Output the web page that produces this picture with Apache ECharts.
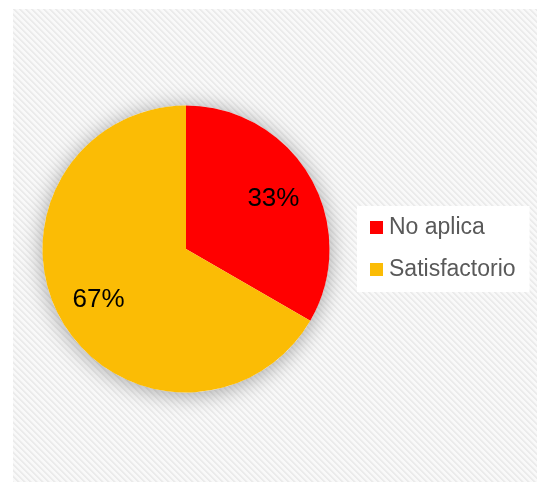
<!DOCTYPE html>
<html>
<head>
<meta charset="utf-8">
<script src="https://cdn.jsdelivr.net/npm/echarts@6/dist/echarts.min.js"></script>
<style>
  html, body { margin: 0; padding: 0; background: #ffffff; }
  #chart { position: absolute; left: 13px; top: 9px; width: 524px; height: 473px; }
</style>
</head>
<body>
<div id="chart"></div>
<script>
var categories = ['No aplica', 'Satisfactorio'];
var values = [1, 2];
var colors = ['#ff0000', '#fbbc05'];

// hatched background, same as the sheet behind the chart
var makeHatch = function () {
    var size = 6;
    var c = document.createElement('canvas');
    c.width = size;
    c.height = size;
    var ctx = c.getContext('2d');
    var img = ctx.createImageData(size, size);
    for (var y = 0; y < size; y++) {
        for (var x = 0; x < size; x++) {
            var k = ((x - y) % size + size) % size;
            var v = k < 2 ? 235 : (k === 2 ? 242 : 249);
            var i = (y * size + x) * 4;
            img.data[i] = v;
            img.data[i + 1] = v;
            img.data[i + 2] = v;
            img.data[i + 3] = 255;
        }
    }
    ctx.putImageData(img, 0, 0);
    return c.toDataURL();
};

var el = document.getElementById('chart');
el.style.backgroundImage = 'url(' + makeHatch() + ')';

var data = categories.map(function (name, i) {
    return { name: name, value: values[i], itemStyle: { color: colors[i] } };
});

var center = [173, 240];
var radius = 143.5;

var chart = echarts.init(el, null, { renderer: 'canvas' });
chart.setOption({
    animation: false,
    textStyle: { fontFamily: 'Liberation Sans, Arial, sans-serif' },
    legend: {
        orient: 'vertical',
        left: 344,
        top: 197,
        backgroundColor: '#ffffff',
        padding: [10, 14, 11, 13],
        itemWidth: 13,
        itemHeight: 13,
        itemGap: 19,
        icon: 'rect',
        data: categories,
        textStyle: { fontSize: 23, lineHeight: 23, color: '#595959', padding: [0, 0, 0, 1] }
    },
    series: [
        {
            // disc underneath that carries the drop shadow
            type: 'pie',
            name: 'shadow',
            silent: true,
            center: center,
            radius: radius,
            label: { show: false },
            labelLine: { show: false },
            itemStyle: {
                color: '#ffffff',
                shadowBlur: 22,
                shadowColor: 'rgba(0,0,0,0.35)',
                shadowOffsetY: 2
            },
            data: [{ name: '', value: 1 }]
        },
        {
            type: 'pie',
            name: 'main',
            center: center,
            radius: radius,
            startAngle: 90,
            clockwise: true,
            label: { show: false },
            labelLine: { show: false },
            emphasis: { disabled: true },
            data: data
        },
        {
            // transparent copy, only used to place the percent labels further out
            type: 'pie',
            name: 'labels',
            silent: true,
            center: center,
            radius: radius * 1.365,
            startAngle: 90,
            clockwise: true,
            itemStyle: { color: 'transparent' },
            labelLine: { show: false },
            label: {
                show: true,
                position: 'inside',
                fontSize: 26,
                color: '#000000',
                formatter: function (p) {
                    return Math.round(p.percent) + '%';
                }
            },
            data: categories.map(function (name, i) {
                return { name: name, value: values[i] };
            })
        }
    ]
});
</script>
</body>
</html>
